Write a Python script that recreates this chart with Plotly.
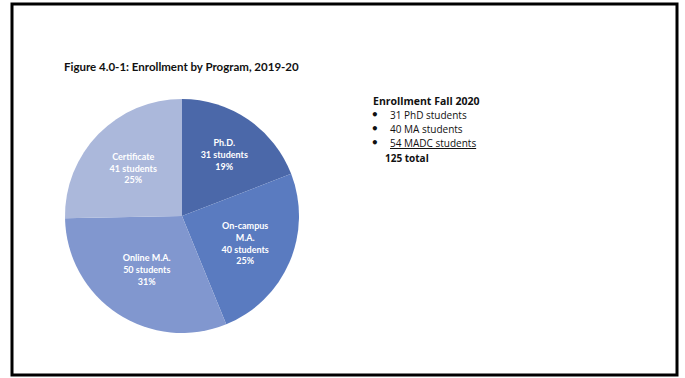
import plotly.graph_objects as go

programs = ["Ph.D.", "On-campus<br>M.A.", "Online M.A.", "Certificate"]
students = [31, 40, 50, 41]
percents = ["19%", "25%", "31%", "25%"]
colors = ["#4b68a9", "#5a7bc0", "#8197cf", "#abb8db"]

title_text = "Figure 4.0-1: Enrollment by Program, 2019-20"
side_title = "Enrollment Fall 2020"
side_items = ["31 PhD students", "40 MA students", "54 MADC students"]
side_total = "125 total"

labels_text = [f"{p}<br>{s} students<br>{pc}" for p, s, pc in zip(programs, students, percents)]

fig = go.Figure()
fig.add_trace(go.Pie(
    labels=[p.replace("<br>", " ") for p in programs],
    values=students,
    text=labels_text,
    textinfo="text",
    textposition="inside",
    insidetextorientation="horizontal",
    textfont=dict(family="Lato", size=9, color="white", weight="bold"),
    marker=dict(colors=colors, line=dict(width=0)),
    sort=False,
    direction="clockwise",
    rotation=0,
    domain=dict(x=[65/685, 299/685], y=[(378-333)/378, (378-99)/378]),
    showlegend=False,
    hoverinfo="label+value+percent",
))

fig.add_annotation(x=62/685, y=(378-66)/378, xref="paper", yref="paper",
                   xanchor="left", yanchor="middle", showarrow=False,
                   text=f"<b>{title_text}</b>",
                   font=dict(family="Lato", size=11.5, color="#111"))

fig.add_annotation(x=371/685, y=(378-101)/378, xref="paper", yref="paper",
                   xanchor="left", yanchor="middle", showarrow=False,
                   text=f"<b>{side_title}</b>",
                   font=dict(family="Open Sans", size=10.5, color="#111"))

line_y = [115, 129, 143]
for i, (item, yy) in enumerate(zip(side_items, line_y)):
    fig.add_annotation(x=369/685, y=(378-yy)/378, xref="paper", yref="paper",
                       xanchor="left", yanchor="middle", showarrow=False,
                       text="<b>•</b>", font=dict(family="DejaVu Sans", size=12, color="#111"))
    txt = item if i < len(side_items) - 1 else f"<span style='text-decoration:underline'>{item}</span>"
    fig.add_annotation(x=388/685, y=(378-yy)/378, xref="paper", yref="paper",
                       xanchor="left", yanchor="middle", showarrow=False,
                       text=txt, font=dict(family="Open Sans", size=10, color="#111"))

fig.add_annotation(x=383/685, y=(378-158)/378, xref="paper", yref="paper",
                   xanchor="left", yanchor="middle", showarrow=False,
                   text=f"<b>{side_total}</b>",
                   font=dict(family="Open Sans", size=10, color="#111"))

fig.add_shape(type="rect", xref="paper", yref="paper",
              x0=12/685, x1=677/685, y0=(378-375)/378, y1=(378-4)/378,
              line=dict(color="black", width=3), fillcolor="rgba(0,0,0,0)")

fig.update_layout(width=685, height=378, margin=dict(l=0, r=0, t=0, b=0),
                  paper_bgcolor="white", plot_bgcolor="white")

fig.write_html("out.html")
